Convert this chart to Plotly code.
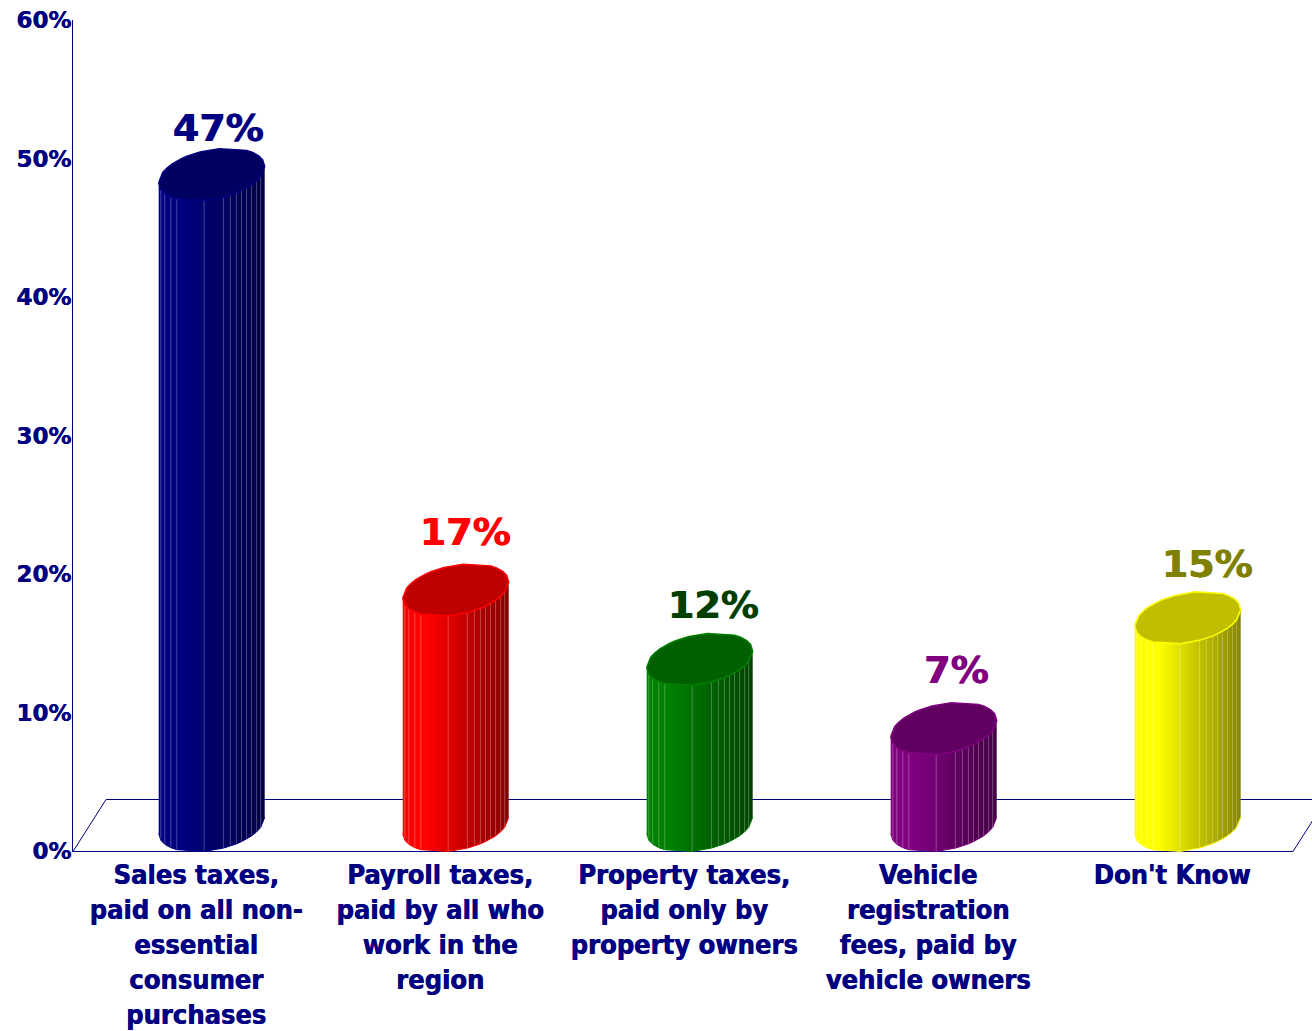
import numpy as np
import plotly.graph_objects as go

# ---- chart data -------------------------------------------------------
categories = [
    "Sales taxes,<br>paid on all non-<br>essential<br>consumer<br>purchases",
    "Payroll taxes,<br>paid by all who<br>work in the<br>region",
    "Property taxes,<br>paid only by<br>property owners",
    "Vehicle<br>registration<br>fees, paid by<br>vehicle owners",
    "Don't Know",
]
values = [47, 17, 12, 7, 15]
value_labels = ["47%", "17%", "12%", "7%", "15%"]
y_ticks = [0, 10, 20, 30, 40, 50, 60]
y_tick_labels = ["0%", "10%", "20%", "30%", "40%", "50%", "60%"]

# ---- styling ----------------------------------------------------------
NAVY = "#000080"
base_colors = [(0, 0, 128), (255, 0, 0), (0, 128, 0), (128, 0, 128), (255, 255, 0)]
label_colors = ["#000080", "#ff0000", "#003f00", "#800080", "#808000"]
label_dx = [0.090, 0.102, 0.119, 0.115, 0.143]   # label offset from category, in category units
label_dy = [1.18, 2.02, 1.77, 2.07, 1.72]        # label offset above cap top, in %

W, H = 1312, 1031
L, R, T, B = 73, 0, 20, 179
PX_PCT = 831 / 60.0
PX_CAT = 244.0
X0 = (L - 196) / PX_CAT
X1 = (W - 196) / PX_CAT
Y0 = -1 / PX_PCT           # one pixel of room under zero for the floor's front edge

A = 53 / PX_CAT            # cylinder half width, category units
BB = 26.3 / PX_PCT         # ellipse half height, %
LIFT = 25.5 / PX_PCT       # ellipse centre above the floor front, %
SHIFT = 15.7 / PX_CAT      # cylinder centre from category centre
PHI = np.radians(18)
facet_edges = np.array([0, .02, .057, .114, .171, .429, .61, .676, .733, .781, .829, .876, .924, .962, 1])


def lower_arc(f, cy):
    t = np.arccos(2 * f - 1)
    return cy - BB * np.sin(t - PHI)


def upper_arc(f, cy):
    t = np.arccos(2 * f - 1)
    return cy + BB * np.sin(t + PHI)


def shade(rgb, k):
    return "rgb(%d,%d,%d)" % tuple(int(round(c * k)) for c in rgb)


def brightness(f):
    return float(np.interp(f, [0, 0.22, 1], [1.0, 1.0, 0.52]))


fig = go.Figure()


def line(x, y, color=NAVY, width=1):
    fig.add_trace(go.Scatter(x=x, y=y, mode="lines", line=dict(color=color, width=width),
                             hoverinfo="skip", showlegend=False))


# ---- floor ------------------------------------------------------------
depth_x = 33 / PX_CAT
floor_front = -0.5 / PX_PCT
floor_back = 51.5 / PX_PCT
front_right = (1293 - 196) / PX_CAT
line([X0, X0 + depth_x, front_right + depth_x, front_right, X0],
     [floor_front, floor_back, floor_back, floor_front, floor_front])

# ---- cylinders --------------------------------------------------------
strip_edges = np.linspace(0, 1, 54)
for i, (v, rgb) in enumerate(zip(values, base_colors)):
    cx = i + SHIFT
    top = v + LIFT
    bot = LIFT
    for f0, f1 in zip(strip_edges[:-1], strip_edges[1:]):
        f2 = min(1.0, f1 + 0.008)
        fs = np.array([f0, f2])
        ys_bot = np.interp(fs, facet_edges, lower_arc(facet_edges, bot))
        ys_top = np.interp(fs, facet_edges, lower_arc(facet_edges, top))
        xs = cx + A * (2 * fs - 1)
        fig.add_trace(go.Scatter(
            x=[xs[0], xs[1], xs[1], xs[0], xs[0]],
            y=[ys_bot[0], ys_bot[1], ys_top[1], ys_top[0], ys_bot[0]],
            mode="lines", fill="toself", line=dict(width=0),
            fillcolor=shade(rgb, brightness((f0 + f1) / 2)),
            hoverinfo="skip", showlegend=False))
    # facet seams
    sx, sy = [], []
    for f in facet_edges[1:-1]:
        sx += [cx + A * (2 * f - 1)] * 2 + [None]
        sy += [float(lower_arc(f, bot)), float(lower_arc(f, top)), None]
    line(sx, sy, "rgba(255,255,255,0.28)", 1)
    # rim along the foot
    line(cx + A * (2 * facet_edges - 1), lower_arc(facet_edges, bot), shade(rgb, 1), 1)
    # cap
    up_f = (1 - facet_edges[::-1])[::-1]
    cap_x = np.concatenate([cx + A * (2 * facet_edges - 1), (cx + A * (2 * up_f - 1))[1:]])
    cap_y = np.concatenate([lower_arc(facet_edges, top), upper_arc(up_f, top)[1:]])
    fig.add_trace(go.Scatter(x=cap_x, y=cap_y, mode="lines", fill="toself",
                             fillcolor=shade(rgb, 0.75),
                             line=dict(color=shade(rgb, 1), width=1.5),
                             hoverinfo="skip", showlegend=False))

# ---- value labels -----------------------------------------------------
for i, (v, txt, col) in enumerate(zip(values, value_labels, label_colors)):
    fig.add_trace(go.Scatter(
        x=[i + label_dx[i]], y=[v + LIFT + BB + label_dy[i]], mode="text", text=[txt],
        textposition="middle center",
        textfont=dict(family="DejaVu Sans", size=38, color=col, weight=700,
                      shadow="0.9px 0 0 " + col),
        hoverinfo="skip", showlegend=False, cliponaxis=False))

fig.update_layout(
    width=W, height=H,
    margin=dict(l=L, r=R, t=T, b=B, pad=0),
    paper_bgcolor="white", plot_bgcolor="white",
    showlegend=False,
    xaxis=dict(range=[X0, X1], tickmode="array", tickvals=list(range(5)), ticktext=categories,
               showgrid=False, zeroline=False, showline=False, ticks="", tickangle=0,
               automargin=False, ticklabelstandoff=4,
               tickfont=dict(family="DejaVu Sans Condensed, DejaVu Sans", size=27, color=NAVY, weight=700,
                             shadow="0.7px 0 0 " + NAVY)),
    yaxis=dict(range=[Y0, 60], tickmode="array", tickvals=y_ticks, ticktext=y_tick_labels,
               showgrid=False, zeroline=False, showline=True, linecolor=NAVY, linewidth=1,
               automargin=False, ticks="", ticklabelstandoff=-4,
               tickfont=dict(family="DejaVu Sans", size=23, color=NAVY, weight=700,
                             shadow="0.4px 0 0 " + NAVY)),
)

fig.write_html("out.html", config=dict(displayModeBar=False),
               post_script="document.body.style.margin='0';document.body.style.overflow='hidden';")
